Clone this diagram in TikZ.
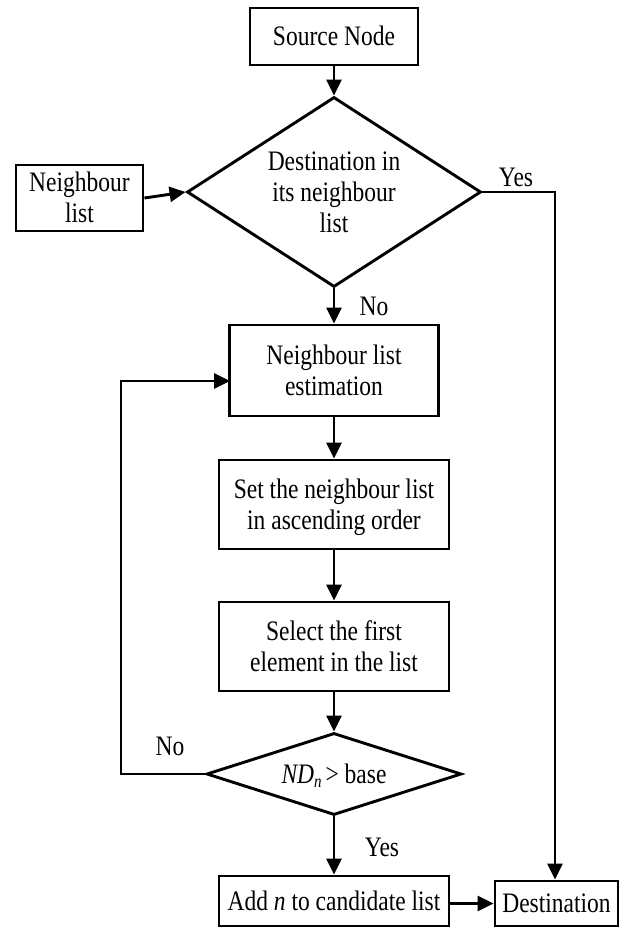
\documentclass[tikz,border=0pt]{standalone}
\usepackage{fontspec}
\usepackage{graphicx}
\setmainfont{Liberation Serif}
\usetikzlibrary{shapes.geometric,arrows.meta}
\newcommand\tx[1]{\raisebox{-3pt}[\height][\depth]{\scalebox{1}[1.2]{\begin{tabular}{@{}c@{}}#1\end{tabular}}}}
\begin{document}
\begin{tikzpicture}[x=1pt,y=-1pt,
  font=\fontsize{23.5}{26}\selectfont,
  every path/.style={line width=2.9pt},
  box/.style={draw,rectangle,inner sep=0pt,align=center},
  dia/.style={draw,diamond,inner sep=0pt},
  arr/.style={-{Triangle[length=16pt,width=15pt]}},
  lbl/.style={inner sep=0pt}]
\useasboundingbox (0,0) rectangle (625,928);
\node[box,minimum width=168pt,minimum height=57pt] (src) at (334,36.5) {\tx{Source Node}};
\node[dia,minimum width=294pt,minimum height=190pt,
  label={[lbl,name=d1t]center:\tx{Destination in\\its neighbour\\list}}] (d1) at (334,192) {};
\node[box,minimum width=127pt,minimum height=66pt] (nl) at (79.5,198) {\tx{Neighbour\\list}};
\node[box,minimum width=209pt,minimum height=91pt] (nle) at (334,370.5) {\tx{Neighbour list\\estimation}};
\node[box,minimum width=230pt,minimum height=89pt] (set) at (334,504.5) {\tx{Set the neighbour list\\in ascending order}};
\node[box,minimum width=230pt,minimum height=89pt] (sel) at (334,646.5) {\tx{Select the first\\element in the list}};
\node[dia,minimum width=255pt,minimum height=82pt,
  label={[lbl,name=d2t]center:\tx{\textit{ND}\raisebox{-0.35ex}{\fontsize{15}{15}\selectfont\textit{n}}\,> base}}] (d2) at (334,774) {};
\node[box,minimum width=230pt,minimum height=50pt] (add) at (334,901) {\tx{Add \textit{n} to candidate list}};
\node[box,minimum width=123pt,minimum height=45pt] (dst) at (556.5,903.5) {\tx{Destination}};
\coordinate (loopc) at (121,774);
\coordinate (loopin) at (230,381);
\coordinate (yesc) at (555,192);
\draw[arr] (src) -- (d1.north);
\draw[arr] (nl.east) -- (d1.west);
\draw[arr] (d1.south) -- (nle.north);
\draw[arr] (nle) -- (set);
\draw[arr] (set) -- (sel);
\draw[arr] (sel) -- (d2.north);
\draw[arr] (d2.south) -- (add.north);
\draw[arr] (add.east |- dst.west) -- (dst.west);
\draw[arr] (d1.east) -- (yesc) -- (yesc |- dst.north);
\draw[arr] (d2.west) -- (loopc) |- (loopin);
\node[lbl] (y1) at (516,177) {\tx{Yes}};
\node[lbl] (n1) at (374,306) {\tx{No}};
\node[lbl] (n2) at (170,746) {\tx{No}};
\node[lbl] (y2) at (382,847) {\tx{Yes}};
\end{tikzpicture}
\end{document}
